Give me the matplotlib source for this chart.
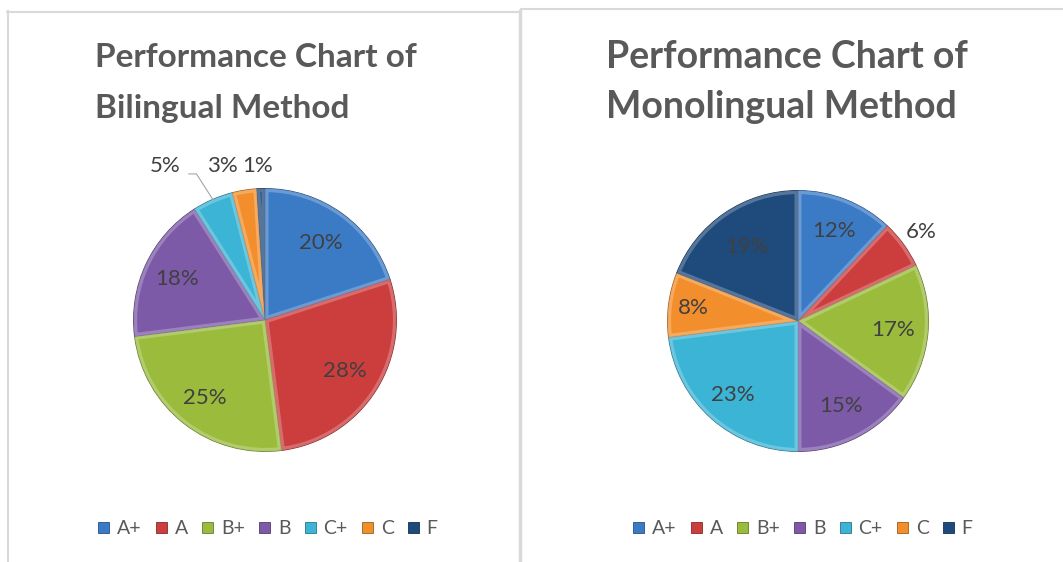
import numpy as np
import matplotlib.pyplot as plt
import matplotlib.colors as mcolors
from matplotlib.patches import Wedge, Patch
from matplotlib.lines import Line2D

W, H = 1063, 562

grades = ['A+', 'A', 'B+', 'B', 'C+', 'C', 'F']
bilingual = [20, 28, 25, 18, 5, 3, 1]
monolingual = [12, 6, 17, 15, 23, 8, 19]
colors = ['#3b7bc6', '#cc3d3d', '#9abb3c', '#7c5aa8', '#3cb4d6', '#f28e2c', '#1f4a7c']

plt.rcParams['font.family'] = ['Lato', 'DejaVu Sans']
TXT = '#595959'
LBL = '#404040'
BORDER = '#d9d9d9'

fig = plt.figure(figsize=(W / 100, H / 100), dpi=100)


def shade(c, f):
    """mix colour with white (f>0) or black (f<0)"""
    rgb = np.array(mcolors.to_rgb(c))
    if f > 0:
        return tuple(rgb + (1 - rgb) * f)
    return tuple(rgb * (1 + f))


def draw_pie(cx, cy, r, values, label_pos):
    ax = fig.add_axes([(cx - r) / W, (H - cy - r) / H, 2 * r / W, 2 * r / H])
    wedges, _ = ax.pie(values, colors=colors, startangle=90, counterclock=False,
                       radius=1, wedgeprops=dict(linewidth=0.8))
    for w, c in zip(wedges, colors):
        w.set_edgecolor(shade(c, -0.35))
        # bevel look: light band along the wedge edges
        hl = Wedge(w.center, w.r, w.theta1, w.theta2, fc='none',
                   ec=shade(c, 0.35), lw=5, alpha=0.7)
        hl.set_clip_path(w)
        ax.add_patch(hl)
    for w, v, (lr, la) in zip(wedges, values, label_pos):
        ang = (w.theta1 + w.theta2) / 2 if la is None else la
        t = np.deg2rad(ang)
        ax.text(lr * np.cos(t), lr * np.sin(t), f'{v}%', ha='center', va='center',
                fontsize=16, color=LBL)
    ax.set_xlim(-1.02, 1.02)
    ax.set_ylim(-1.02, 1.02)
    ax.set_clip_on(False)
    return ax, wedges


# label positions (radius, angle override) in pie units
left_pos = [(0.72, None), (0.72, None), (0.75, None), (0.74, None),
            (1.40, 123), (1.215, 105.3), (1.173, 92.9)]
right_pos = [(0.74, None), (1.165, None), (0.73, None), (0.73, None),
             (0.76, None), (0.81, None), (0.69, None)]

axl, wl = draw_pie(265, 320, 134, bilingual, left_pos)
axr, wr = draw_pie(798, 321, 133, monolingual, right_pos)

# leader line for the 5% slice
w5 = wl[4]
t5 = np.deg2rad((w5.theta1 + w5.theta2) / 2)
axl.add_line(Line2D([-0.58, -0.522, 1.0 * np.cos(t5)], [1.112, 1.112, 1.0 * np.sin(t5)],
                    color='#a6a6a6', lw=0.8, clip_on=False))

# titles
fig.text(95 / W, 1 - 67 / H, 'Performance Chart of', ha='left', va='baseline',
         fontsize=24, fontweight='bold', color=TXT)
fig.text(95 / W, 1 - 118 / H, 'Bilingual Method', ha='left', va='baseline',
         fontsize=24, fontweight='bold', color=TXT)
fig.text(606 / W, 1 - 68 / H, 'Performance Chart of', ha='left', va='baseline',
         fontsize=27, fontweight='bold', color=TXT)
fig.text(606 / W, 1 - 118 / H, 'Monolingual Method', ha='left', va='baseline',
         fontsize=27, fontweight='bold', color=TXT)

# legends
handles = [Patch(facecolor=c, edgecolor=shade(c, -0.35), lw=0.6) for c in colors]
for x in (268, 803):
    fig.legend(handles, grades, loc='center', bbox_to_anchor=(x / W, 1 - 529 / H),
               ncol=7, frameon=False, fontsize=14, labelcolor=TXT,
               handlelength=0.55, handleheight=0.55, handletextpad=0.4,
               columnspacing=0.75)

# chart area borders
def line(xs, ys, lw):
    fig.add_artist(Line2D([x / W for x in xs], [1 - y / H for y in ys],
                          color=BORDER, lw=lw, transform=fig.transFigure))

line([7.5, 7.5], [11, 562], 1.5)
line([7, 520], [11.5, 11.5], 1.5)
line([520, 520], [11, 562], 2.5)
line([521, 1063], [8.5, 8.5], 1.5)

fig.savefig('out.png', dpi=100, facecolor='white')
